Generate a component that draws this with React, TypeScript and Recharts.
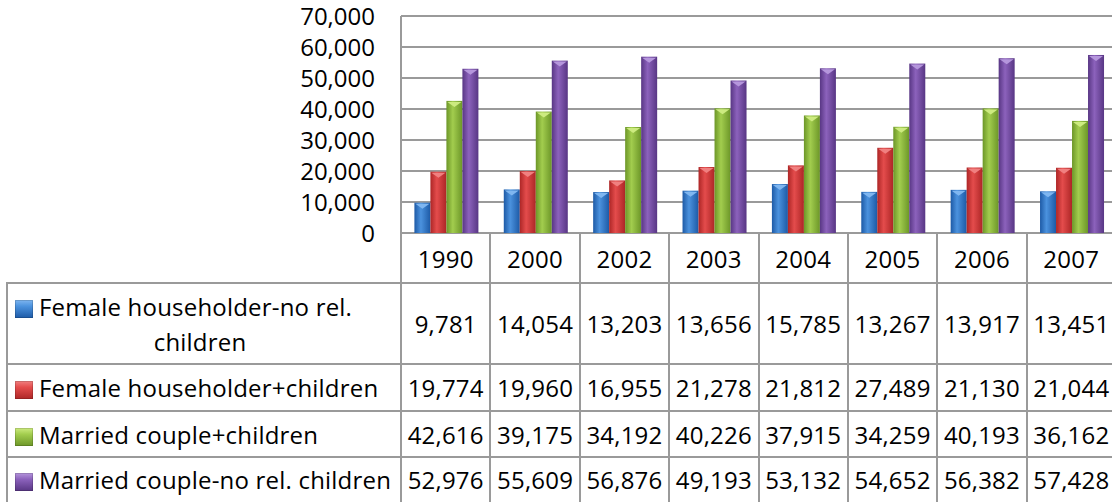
import { Bar, BarChart, CartesianGrid, XAxis, YAxis } from "recharts";

const years = ["1990", "2000", "2002", "2003", "2004", "2005", "2006", "2007"];
const seriesNames = [
  "Female householder-no rel. children",
  "Female householder+children",
  "Married couple+children",
  "Married couple-no rel. children",
];
const femaleNoChildren = [9781, 14054, 13203, 13656, 15785, 13267, 13917, 13451];
const femaleChildren = [19774, 19960, 16955, 21278, 21812, 27489, 21130, 21044];
const marriedChildren = [42616, 39175, 34192, 40226, 37915, 34259, 40193, 36162];
const marriedNoChildren = [52976, 55609, 56876, 49193, 53132, 54652, 56382, 57428];
const yTicks = [0, 10000, 20000, 30000, 40000, 50000, 60000, 70000];

const seriesValues = [femaleNoChildren, femaleChildren, marriedChildren, marriedNoChildren];
const seriesKeys = ["s0", "s1", "s2", "s3"];
// edge / centre / cap colours for the cylinder-ish shading
const shades = [
  ["#1d5aa6", "#4b92de", "#7fb6f0"],
  ["#ad2626", "#e44c4c", "#f08080"],
  ["#6c9628", "#a2cd4e", "#cdeb80"],
  ["#583684", "#8c62bc", "#b596dc"],
];

const data = years.map((year, i) => {
  const row: Record<string, string | number> = { year };
  seriesKeys.forEach((k, s) => (row[k] = seriesValues[s][i]));
  return row;
});

const FONT = "'Open Sans', Lato, sans-serif";
const FS = 24;
const LINE = "#9a9a9a";
const PLOT_LEFT = 401;
const PLOT_RIGHT = 1116;
const COL_W = (PLOT_RIGHT - PLOT_LEFT) / years.length;
const fmt = (v: number) => v.toLocaleString("en-US");

const rowTops = [283, 364, 411, 457];
const rowBottoms = [364, 411, 457, 501];

function Key({ s }: { s: number }) {
  return (
    <span
      style={{
        display: "inline-block",
        width: 18,
        height: 18,
        marginRight: 6,
        verticalAlign: "-2px",
        background: `linear-gradient(180deg, ${shades[s][2]} 0%, ${shades[s][1]} 35%, ${shades[s][0]} 100%)`,
        boxShadow: "inset 0 0 0 1px rgba(0,0,0,0.15)",
      }}
    />
  );
}

function makeShape(s: number) {
  return (props: any) => {
    const { x, y, width, height } = props;
    if (!height || height <= 0) return <g />;
    const cap = 6;
    return (
      <g>
        <rect x={x} y={y} width={width} height={height} fill={`url(#g${s})`} />
        <polygon
          points={`${x + 1},${y + 1} ${x + width - 1},${y + 1} ${x + width / 2},${y + cap}`}
          fill={shades[s][2]}
        />
      </g>
    );
  };
}

export default function App() {
  return (
    <div
      style={{
        position: "absolute",
        left: 0,
        top: 0,
        width: 1112,
        height: 502,
        overflow: "hidden",
        background: "#fff",
        fontFamily: FONT,
        color: "#000",
      }}
    >
      <BarChart
        width={PLOT_RIGHT}
        height={260}
        data={data}
        margin={{ top: 16, right: 0, bottom: 27, left: 0 }}
        barCategoryGap="15%"
        barGap={0}
      >
        <defs>
          {shades.map(([edge, mid], s) => (
            <linearGradient key={s} id={`g${s}`} x1="0" y1="0" x2="1" y2="0">
              <stop offset="0%" stopColor={edge} />
              <stop offset="40%" stopColor={mid} />
              <stop offset="100%" stopColor={edge} />
            </linearGradient>
          ))}
        </defs>
        <CartesianGrid vertical={false} stroke={LINE} strokeWidth={2} />
        <XAxis dataKey="year" hide />
        <YAxis
          width={PLOT_LEFT}
          domain={[0, 70000]}
          ticks={yTicks}
          interval={0}
          tickFormatter={fmt}
          tickLine={false}
          tickSize={0}
          tickMargin={26}
          axisLine={{ stroke: LINE, strokeWidth: 2 }}
          tick={{ fill: "#000", fontSize: FS, fontFamily: FONT }}
        />
        {seriesKeys.map((k, s) => (
          <Bar key={k} dataKey={k} shape={makeShape(s)} isAnimationActive={false} />
        ))}
      </BarChart>

      {/* data table */}
      {years.map((y, i) => (
        <div
          key={y}
          style={{
            position: "absolute",
            left: PLOT_LEFT + i * COL_W,
            top: 233,
            width: COL_W,
            height: 283 - 233,
            display: "flex",
            alignItems: "center",
            justifyContent: "center",
            fontSize: FS,
            letterSpacing: 0.3,
          }}
        >
          {y}
        </div>
      ))}
      {seriesNames.map((name, s) => (
        <div key={name}>
          <div
            style={{
              position: "absolute",
              left: 15,
              top: rowTops[s],
              height: rowBottoms[s] - rowTops[s],
              width: 386,
              display: "flex",
              alignItems: "center",
            }}
          >
            <div
              style={{
                display: "inline-block",
                maxWidth: 370,
                textAlign: "left",
                textAlignLast: "center",
                fontSize: FS,
                letterSpacing: 0.2,
                lineHeight: "35px",
                whiteSpace: s === 3 ? "nowrap" : "normal",
              }}
            >
              <Key s={s} />
              {name}
            </div>
          </div>
          {seriesValues[s].map((v, i) => (
            <div
              key={i}
              style={{
                position: "absolute",
                left: PLOT_LEFT + i * COL_W,
                top: rowTops[s],
                width: COL_W,
                height: rowBottoms[s] - rowTops[s],
                display: "flex",
                alignItems: "center",
                justifyContent: "center",
                fontSize: FS,
                letterSpacing: 0.2,
              }}
            >
              {fmt(v)}
            </div>
          ))}
        </div>
      ))}

      {/* table grid lines */}
      {years.map((y, i) => (
        <div
          key={`v${y}`}
          style={{
            position: "absolute",
            left: PLOT_LEFT + i * COL_W - 1,
            top: 233,
            width: 2,
            height: 300,
            background: LINE,
          }}
        />
      ))}
      <div style={{ position: "absolute", left: 6, top: 283, width: 2, height: 300, background: LINE }} />
      {rowTops.map((t) => (
        <div
          key={`h${t}`}
          style={{ position: "absolute", left: 6, top: t - 1, width: 1120, height: 2, background: LINE }}
        />
      ))}
    </div>
  );
}
